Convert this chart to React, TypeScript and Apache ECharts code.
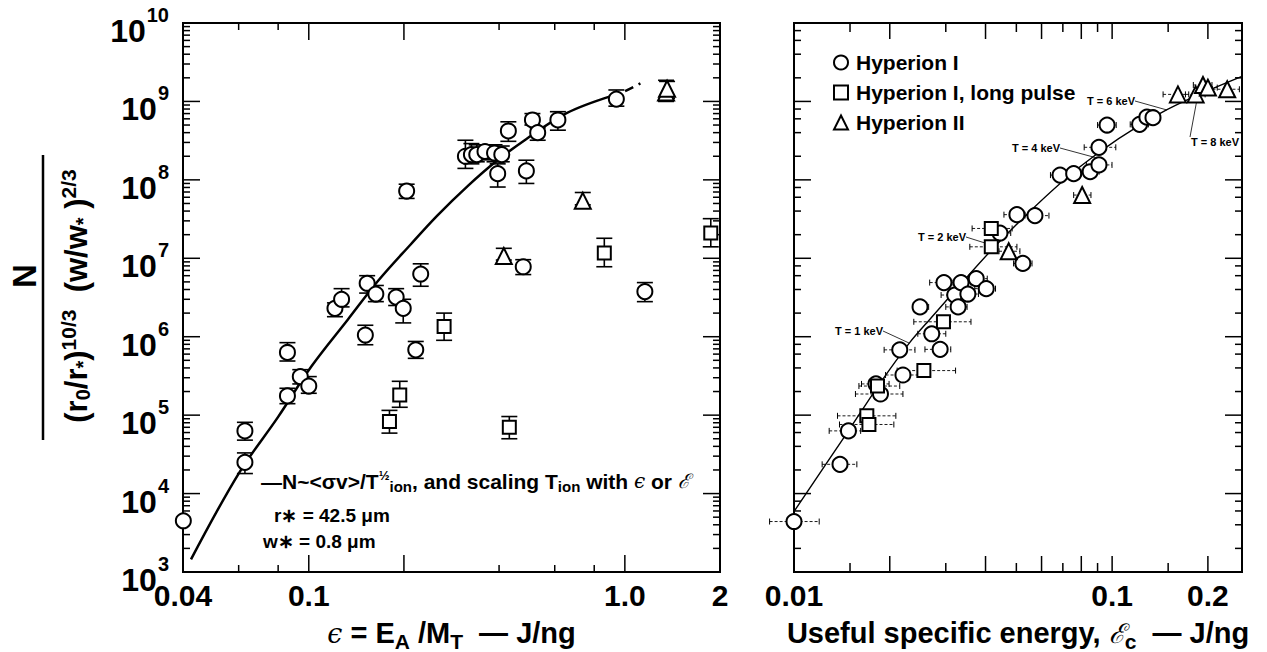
import React, { useEffect, useRef } from 'react';
import * as echarts from 'echarts';

const FONT = '"Liberation Sans", Arial, Helvetica, sans-serif';

// ---------- Left panel data: [epsilon (J/ng), N-normalized, errLow, errHigh] ----------
const leftHyperionI: (number | null)[][] = [
  [0.0401, 4.5e3, null, null],
  [0.0628, 2.5e4, 1.8e4, 3.3e4],
  [0.0628, 6.3e4, 4.8e4, 8.1e4],
  [0.0856, 1.76e5, 1.4e5, 2.2e5],
  [0.0856, 6.3e5, 4.9e5, 8.4e5],
  [0.094, 3.1e5, 2.5e5, 3.8e5],
  [0.1, 2.35e5, 1.9e5, 3.1e5],
  [0.121, 2.3e6, 1.8e6, 2.7e6],
  [0.127, 3.0e6, 2.4e6, 4.1e6],
  [0.151, 1.05e6, 7.9e5, 1.4e6],
  [0.153, 4.8e6, 3.6e6, 6.0e6],
  [0.163, 3.5e6, 2.8e6, 4.5e6],
  [0.189, 3.2e6, 2.5e6, 4.1e6],
  [0.199, 2.3e6, 1.5e6, 3.0e6],
  [0.204, 7.2e7, 5.8e7, 8.8e7],
  [0.218, 6.8e5, 5.3e5, 8.7e5],
  [0.226, 6.3e6, 4.4e6, 8.5e6],
  [0.313, 2.0e8, 1.4e8, 3.2e8],
  [0.327, 2.1e8, 1.6e8, 2.9e8],
  [0.34, 2.1e8, 1.7e8, 2.8e8],
  [0.361, 2.3e8, 1.8e8, 2.8e8],
  [0.387, 2.2e8, 1.7e8, 2.8e8],
  [0.396, 1.2e8, 8.1e7, 1.6e8],
  [0.408, 2.1e8, 1.7e8, 2.7e8],
  [0.428, 4.2e8, 3.1e8, 5.5e8],
  [0.477, 7.8e6, 6.2e6, 9.6e6],
  [0.488, 1.3e8, 9.0e7, 1.78e8],
  [0.51, 5.8e8, 5.0e8, 7.0e8],
  [0.53, 4.0e8, 3.2e8, 4.6e8],
  [0.614, 5.8e8, 4.3e8, 7.4e8],
  [0.94, 1.07e9, 8.7e8, 1.4e9],
  [1.157, 3.76e6, 2.8e6, 4.9e6],
];
const leftLongPulse: number[][] = [
  [0.18, 8.3e4, 5.9e4, 1.15e5],
  [0.194, 1.8e5, 1.26e5, 2.7e5],
  [0.268, 1.35e6, 9.0e5, 2.0e6],
  [0.431, 7.0e4, 5.0e4, 9.6e4],
  [0.861, 1.17e7, 7.8e6, 1.8e7],
  [1.87, 2.1e7, 1.4e7, 3.2e7],
];
const leftHyperionII: number[][] = [
  [0.414, 1.07e7, 9.5e6, 1.34e7],
  [0.736, 5.4e7, 4.8e7, 6.9e7],
  [1.35, 1.3e9, 1.0e9, 1.86e9],
  [1.36, 1.45e9, 1.1e9, 1.8e9],
];
const leftFit: number[][] = [
  [0.0424, 1.45e3], [0.06, 1.8e4], [0.08, 9.5e4], [0.102, 4.2e5], [0.133, 1.66e6],
  [0.166, 5.2e6], [0.21, 1.5e7], [0.255, 3.5e7], [0.32, 8.5e7], [0.39, 1.7e8],
  [0.487, 3.3e8], [0.654, 7.1e8], [0.904, 1.17e9],
];
const leftFitDashed: number[][] = [[0.904, 1.17e9], [1.0, 1.35e9], [1.12, 1.7e9]];

// ---------- Right panel data: [E_c (J/ng), N-normalized, xLow, xHigh] ----------
const rightHyperionI: number[][] = [
  [0.01, 4.4e3, 0.00838, 0.012],
  [0.01395, 2.36e4, 0.01226, 0.01576],
  [0.01483, 6.3e4, 0.0129, 0.0162],
  [0.0181, 2.5e5, 0.0163, 0.0199],
  [0.0187, 1.86e5, 0.0156, 0.022],
  [0.0215, 6.8e5, 0.0192, 0.024],
  [0.022, 3.25e5, 0.0194, 0.0251],
  [0.0249, 2.4e6, 0.0238, 0.0265],
  [0.0271, 1.09e6, 0.0245, 0.03],
  [0.0288, 6.9e5, 0.0258, 0.0311],
  [0.0296, 4.9e6, 0.0267, 0.0316],
  [0.032, 3.4e6, 0.029, 0.0345],
  [0.0328, 2.4e6, 0.03, 0.035],
  [0.0335, 4.9e6, 0.0305, 0.036],
  [0.0352, 3.5e6, 0.032, 0.038],
  [0.0374, 5.5e6, 0.0345, 0.0405],
  [0.0402, 4.1e6, 0.037, 0.043],
  [0.0444, 2.1e7, 0.041, 0.048],
  [0.0502, 3.6e7, 0.0457, 0.0532],
  [0.0524, 8.6e6, 0.049, 0.056],
  [0.0572, 3.5e7, 0.0532, 0.0633],
  [0.0686, 1.15e8, 0.064, 0.073],
  [0.0757, 1.2e8, 0.071, 0.08],
  [0.0853, 1.27e8, 0.0798, 0.091],
  [0.0909, 1.55e8, 0.083, 0.0999],
  [0.0909, 2.6e8, 0.0817, 0.1027],
  [0.0964, 5.0e8, 0.09, 0.103],
  [0.122, 5.1e8, 0.114, 0.13],
  [0.1286, 6.3e8, 0.122, 0.135],
  [0.1344, 6.2e8, 0.127, 0.142],
];
const rightLongPulse: number[][] = [
  [0.01694, 9.8e4, 0.0137, 0.0209],
  [0.0172, 7.6e4, 0.0139, 0.0206],
  [0.0183, 2.35e5, 0.016, 0.0215],
  [0.0256, 3.7e5, 0.0211, 0.0322],
  [0.0295, 1.55e6, 0.0238, 0.036],
  [0.0417, 1.4e7, 0.0357, 0.0502],
  [0.0417, 2.4e7, 0.0363, 0.0485],
];
const rightHyperionII: number[][] = [
  [0.0473, 1.23e7, 0.0441, 0.0513],
  [0.0805, 6.4e7, 0.0757, 0.0858],
  [0.161, 1.23e9, 0.1446, 0.1741],
  [0.183, 1.23e9, 0.17, 0.196],
  [0.193, 1.62e9, 0.18, 0.206],
  [0.2, 1.5e9, 0.188, 0.214],
  [0.23, 1.43e9, 0.2067, 0.2512],
];
const rightFit: number[][] = [
  [0.01, 5.9e3], [0.0149, 6.5e4], [0.0187, 2.6e5], [0.0231, 8.4e5], [0.0265, 1.6e6],
  [0.0447, 1.7e7], [0.0798, 1.5e8], [0.142, 7.1e8], [0.257, 2.1e9],
];

// ---------- Axis ticks / labels ----------
const yMin = 1e3;
const yMax = 1e10;
const yMajorTicks = [1e3, 1e4, 1e5, 1e6, 1e7, 1e8, 1e9, 1e10];
const yDecades = [1e3, 1e4, 1e5, 1e6, 1e7, 1e8, 1e9];
const leftMinorMultipliers = [2, 3, 4, 5, 6, 7, 8, 9];
const rightMinorMultipliers = [2, 4, 6, 8];
const leftYMinor = yDecades.flatMap((d) => leftMinorMultipliers.map((m) => m * d));
const rightYMinor = yDecades.flatMap((d) => rightMinorMultipliers.map((m) => m * d));

const leftXMin = 0.04;
const leftXMax = 2;
const leftXMajor = [0.1, 0.2, 1];
const leftXMinor = [0.06, 0.08, 0.4, 0.6, 0.8];
const leftXLabelValues = [0.04, 0.1, 1, 2];
const leftXLabelTexts = ['0.04', '0.1', '1.0', '2'];

const rightXMin = 0.01;
const rightXMax = 0.256;
const rightXMajor = [0.02, 0.04, 0.06, 0.08, 0.1, 0.2];
const rightXMinor = [0.015, 0.03, 0.05, 0.07, 0.09, 0.15];
const rightXLabelValues = [0.01, 0.1, 0.2];
const rightXLabelTexts = ['0.01', '0.1', '0.2'];

const legendNames = ['Hyperion I', 'Hyperion I, long pulse', 'Hyperion II'];

const tempLabels = [
  { text: 'T = 1 keV', x: 883, y: 331, align: 'right', line: [883, 331, 909, 343] },
  { text: 'T = 2 keV', x: 966, y: 237, align: 'right', line: [966, 237, 985, 243] },
  { text: 'T = 4 keV', x: 1060, y: 148, align: 'right', line: [1060, 148, 1097, 158] },
  { text: 'T = 6 keV', x: 1135, y: 101, align: 'right', line: [1135, 101, 1167, 110] },
  { text: 'T = 8 keV', x: 1191, y: 142, align: 'left', line: [1190, 137, 1198, 94] },
];

const LEFT_GRID = { left: 183, top: 23, width: 537, height: 549 };
const RIGHT_GRID = { left: 794, top: 23, width: 448, height: 549 };

const black = '#000';

function labelFor(values: number[], texts: string[]) {
  return (v: number) => {
    for (let i = 0; i < values.length; i++) {
      if (Math.abs(values[i] - v) / values[i] < 1e-6) return texts[i];
    }
    return '';
  };
}

function xAxis(gridIndex: number, min: number, max: number, labelValues: number[], labelTexts: string[],
  name: string, nameRich: any) {
  return {
    type: 'log', logBase: 10, gridIndex, min, max, position: 'bottom',
    splitLine: { show: false }, minorTick: { show: false }, minorSplitLine: { show: false },
    axisLine: { show: true, onZero: false, lineStyle: { color: black, width: 2 } },
    axisTick: { show: false },
    axisLabel: {
      show: true, customValues: labelValues, formatter: labelFor(labelValues, labelTexts),
      color: black, fontFamily: FONT, fontWeight: 'bold', fontSize: 30, margin: 8,
    },
    name, nameLocation: 'middle', nameGap: 44,
    nameTextStyle: { rich: nameRich },
  };
}

function yAxis(gridIndex: number, showLabels: boolean) {
  return {
    type: 'log', logBase: 10, gridIndex, min: yMin, max: yMax, position: 'left',
    splitLine: { show: false }, minorTick: { show: false }, minorSplitLine: { show: false },
    axisLine: { show: true, onZero: false, lineStyle: { color: black, width: 2 } },
    axisTick: { show: false },
    axisLabel: showLabels
      ? {
          show: true, customValues: yMajorTicks, margin: 14,
          formatter: (v: number) => `{b|10}{s|${Math.round(Math.log10(v))}}`,
          rich: {
            b: { fontFamily: FONT, fontWeight: 'bold', fontSize: 32, color: black, lineHeight: 32, padding: [16, 0, 0, 0] },
            s: { fontFamily: FONT, fontWeight: 'bold', fontSize: 20, color: black, lineHeight: 20, padding: [0, 0, 16, 1] },
          },
        }
      : { show: false },
  };
}

// tick rows: [xValue, yValue, length, direction (0 = x tick, 1 = y tick)]
function tickRows(xMin: number, xMajor: number[], xMinor: number[], xMajorLen: number, xMinorLen: number,
  yMinor: number[]) {
  return [
    ...xMajor.map((v) => [v, yMin, xMajorLen, 0]),
    ...xMinor.map((v) => [v, yMin, xMinorLen, 0]),
    ...yMajorTicks.map((v) => [xMin, v, 17, 1]),
    ...yMinor.map((v) => [xMin, v, 7, 1]),
  ];
}

function renderTick(params: any, api: any) {
  const cs = params.coordSys;
  const len = api.value(2);
  const dir = api.value(3);
  const st = { stroke: black, lineWidth: 1.5 };
  if (dir === 0) {
    const p = api.coord([api.value(0), api.value(1)]);
    const b = cs.y + cs.height;
    return {
      type: 'group',
      children: [
        { type: 'line', shape: { x1: p[0], y1: b, x2: p[0], y2: b - len }, style: st },
        { type: 'line', shape: { x1: p[0], y1: cs.y, x2: p[0], y2: cs.y + len }, style: st },
      ],
    };
  }
  const p = api.coord([api.value(0), api.value(1)]);
  const r = cs.x + cs.width;
  return {
    type: 'group',
    children: [
      { type: 'line', shape: { x1: cs.x, y1: p[1], x2: cs.x + len, y2: p[1] }, style: st },
      { type: 'line', shape: { x1: r, y1: p[1], x2: r - len, y2: p[1] }, style: st },
    ],
  };
}

function tickSeries(idx: number, rows: number[][]) {
  return {
    type: 'custom', name: 'ticks', xAxisIndex: idx, yAxisIndex: idx, silent: true, z: 1, clip: false,
    encode: { x: 0, y: 1 },
    renderItem: renderTick,
    data: rows,
  };
}

function vErr(params: any, api: any) {
  const x = api.value(0);
  const a = api.coord([x, api.value(1)]);
  const b = api.coord([x, api.value(2)]);
  const w = 8;
  const st = { stroke: black, lineWidth: 1.6 };
  return {
    type: 'group',
    children: [
      { type: 'line', shape: { x1: a[0], y1: a[1], x2: b[0], y2: b[1] }, style: st },
      { type: 'line', shape: { x1: a[0] - w, y1: a[1], x2: a[0] + w, y2: a[1] }, style: st },
      { type: 'line', shape: { x1: b[0] - w, y1: b[1], x2: b[0] + w, y2: b[1] }, style: st },
    ],
  };
}

function hErr(params: any, api: any) {
  const y = api.value(1);
  const a = api.coord([api.value(2), y]);
  const b = api.coord([api.value(3), y]);
  const h = 3;
  return {
    type: 'group',
    children: [
      { type: 'line', shape: { x1: a[0], y1: a[1], x2: b[0], y2: b[1] }, style: { stroke: black, lineWidth: 0.9, lineDash: [3, 2] } },
      { type: 'line', shape: { x1: a[0], y1: a[1] - h, x2: a[0], y2: a[1] + h }, style: { stroke: black, lineWidth: 1 } },
      { type: 'line', shape: { x1: b[0], y1: b[1] - h, x2: b[0], y2: b[1] + h }, style: { stroke: black, lineWidth: 1 } },
    ],
  };
}

const markerStyle = { color: '#fff', borderColor: black, borderWidth: 2, opacity: 1 };

function scatter(name: string, rows: any[][], xi: number, symbol: string, size: number) {
  return {
    type: 'scatter', name, xAxisIndex: xi, yAxisIndex: xi, silent: true, z: 5,
    symbol, symbolSize: size, itemStyle: markerStyle,
    emphasis: { disabled: true },
    data: rows.map((r) => [r[0], r[1]]),
  };
}

function vErrSeries(rows: any[][]) {
  return {
    type: 'custom', name: 'vertical error', xAxisIndex: 0, yAxisIndex: 0, silent: true, z: 3,
    encode: { x: 0, y: [1, 2] },
    renderItem: vErr,
    data: rows.filter((r) => r[2] != null).map((r) => [r[0], r[2], r[3]]),
  };
}

function hErrSeries(rows: number[][]) {
  return {
    type: 'custom', name: 'horizontal error', xAxisIndex: 1, yAxisIndex: 1, silent: true, z: 3,
    encode: { x: [0, 2, 3], y: 1 },
    renderItem: hErr,
    data: rows.map((r) => [r[0], r[1], r[2], r[3]]),
  };
}

const nameRichBase = {
  a: { fontFamily: FONT, fontWeight: 'bold', fontSize: 29, color: black, lineHeight: 30 },
  i: { fontFamily: '"DejaVu Serif", serif', fontStyle: 'italic', fontSize: 27, color: black, lineHeight: 30 },
  sb: { fontFamily: FONT, fontWeight: 'bold', fontSize: 21, color: black, lineHeight: 21, padding: [16, 0, 0, 0] },
};

function buildOption(): any {
  const textBold = (size: number) => ({ fontFamily: FONT, fontWeight: 'bold', fontSize: size, fill: black });
  const graphics: any[] = [
    {
      type: 'text', x: 24, y: 276, rotation: Math.PI / 2,
      style: { text: 'N', ...textBold(33), align: 'center', verticalAlign: 'middle' },
    },
    { type: 'line', shape: { x1: 43, y1: 155, x2: 43, y2: 440 }, style: { stroke: black, lineWidth: 2.5 } },
    {
      type: 'text', x: 76, y: 296, rotation: Math.PI / 2,
      style: {
        text: '{a|(r}{sb|0}{a|/r}{sb|*}{a|)}{sp|10/3}{a|  (w/w}{sb|*}{a| )}{sp|2/3}',
        align: 'center', verticalAlign: 'middle',
        rich: {
          a: { fontFamily: FONT, fontWeight: 'bold', fontSize: 31, fill: black, lineHeight: 30 },
          sb: { fontFamily: FONT, fontWeight: 'bold', fontSize: 20, fill: black, lineHeight: 20, padding: [14, 0, 0, 0] },
          sp: { fontFamily: FONT, fontWeight: 'bold', fontSize: 21, fill: black, lineHeight: 20, padding: [0, 0, 16, 0] },
        },
      },
    },
    {
      type: 'text', x: 261, y: 481,
      style: {
        text: '{a|—N~<σv>/T}{sp|½}{sb|ion}{a|, and scaling T}{sb|ion}{a| with }{i|ϵ}{a| or }{i|ℰ}',
        align: 'left', verticalAlign: 'middle',
        rich: {
          a: { fontFamily: FONT, fontWeight: 'bold', fontSize: 21, fill: black, lineHeight: 21 },
          i: { fontFamily: '"DejaVu Serif", serif', fontStyle: 'italic', fontSize: 20, fill: black, lineHeight: 21 },
          sb: { fontFamily: FONT, fontWeight: 'bold', fontSize: 15, fill: black, lineHeight: 14, padding: [11, 0, 0, 0] },
          sp: { fontFamily: FONT, fontWeight: 'bold', fontSize: 13, fill: black, lineHeight: 12, padding: [0, 0, 11, 0] },
        },
      },
    },
    {
      type: 'text', x: 274, y: 515,
      style: { text: 'r∗ = 42.5 μm', ...textBold(19), align: 'left', verticalAlign: 'middle' },
    },
    {
      type: 'text', x: 263, y: 541,
      style: { text: 'w∗ = 0.8 μm', ...textBold(19), align: 'left', verticalAlign: 'middle' },
    },
  ];
  tempLabels.forEach((t) => {
    graphics.push({
      type: 'text', x: t.x, y: t.y,
      style: { text: t.text, fontFamily: FONT, fontWeight: 'bold', fontSize: 11, fill: black, align: t.align, verticalAlign: 'middle' },
    });
    graphics.push({
      type: 'line', shape: { x1: t.line[0], y1: t.line[1], x2: t.line[2], y2: t.line[3] },
      style: { stroke: black, lineWidth: 0.8 },
    });
  });

  const gridBase = { show: true, borderColor: black, borderWidth: 2, backgroundColor: 'transparent', containLabel: false, outerBoundsMode: 'none' };

  return {
    animation: false,
    backgroundColor: '#fff',
    textStyle: { fontFamily: FONT },
    grid: [
      { ...LEFT_GRID, ...gridBase },
      { ...RIGHT_GRID, ...gridBase },
    ],
    legend: {
      data: legendNames,
      orient: 'vertical', left: 828, top: 47, itemGap: 9, itemWidth: 14, itemHeight: 14,
      selectedMode: false,
      textStyle: { fontFamily: FONT, fontWeight: 'bold', fontSize: 21, color: black, padding: [0, 0, 0, 3] },
    },
    xAxis: [
      xAxis(0, leftXMin, leftXMax, leftXLabelValues, leftXLabelTexts,
        '{i|ϵ}{a| = E}{sb|A}{a| /M}{sb|T}{a|  — J/ng}', nameRichBase),
      xAxis(1, rightXMin, rightXMax, rightXLabelValues, rightXLabelTexts,
        '{a|Useful specific energy, }{i|ℰ}{sb|c}{a|  — J/ng}', nameRichBase),
    ],
    yAxis: [yAxis(0, true), yAxis(1, false)],
    graphic: graphics,
    series: [
      tickSeries(0, tickRows(leftXMin, leftXMajor, leftXMinor, 17, 7, leftYMinor)),
      tickSeries(1, tickRows(rightXMin, rightXMajor, rightXMinor, 16, 9, rightYMinor)),
      {
        type: 'line', name: 'fit', xAxisIndex: 0, yAxisIndex: 0, data: leftFit, symbol: 'none', smooth: 0.35,
        lineStyle: { color: black, width: 2.5 }, z: 2, silent: true,
      },
      {
        type: 'line', name: 'fit extrapolated', xAxisIndex: 0, yAxisIndex: 0, data: leftFitDashed, symbol: 'none',
        smooth: 0.3, lineStyle: { color: black, width: 2.5, type: [9, 6] }, z: 2, silent: true,
      },
      {
        type: 'line', name: 'temperature scaling', xAxisIndex: 1, yAxisIndex: 1, data: rightFit, symbol: 'none', smooth: 0.3,
        lineStyle: { color: black, width: 1.4 }, z: 2, silent: true,
      },
      vErrSeries(leftHyperionI),
      vErrSeries(leftLongPulse),
      vErrSeries(leftHyperionII),
      hErrSeries(rightHyperionI),
      hErrSeries(rightLongPulse),
      hErrSeries(rightHyperionII),
      scatter('Hyperion I', leftHyperionI, 0, 'circle', 15),
      scatter('Hyperion I, long pulse', leftLongPulse, 0, 'rect', 13),
      scatter('Hyperion II', leftHyperionII, 0, 'triangle', 16),
      scatter('Hyperion I', rightHyperionI, 1, 'circle', 15),
      scatter('Hyperion I, long pulse', rightLongPulse, 1, 'rect', 13),
      scatter('Hyperion II', rightHyperionII, 1, 'triangle', 16),
    ],
  };
}

export default function App() {
  const ref = useRef<HTMLDivElement>(null);
  useEffect(() => {
    if (!ref.current) return;
    const chart = echarts.init(ref.current, null, { renderer: 'svg', width: 1267, height: 652 });
    chart.setOption(buildOption());
    return () => chart.dispose();
  }, []);
  return (
    <div
      ref={ref}
      style={{ position: 'fixed', left: 0, top: 0, width: 1267, height: 652, background: '#fff' }}
    />
  );
}
